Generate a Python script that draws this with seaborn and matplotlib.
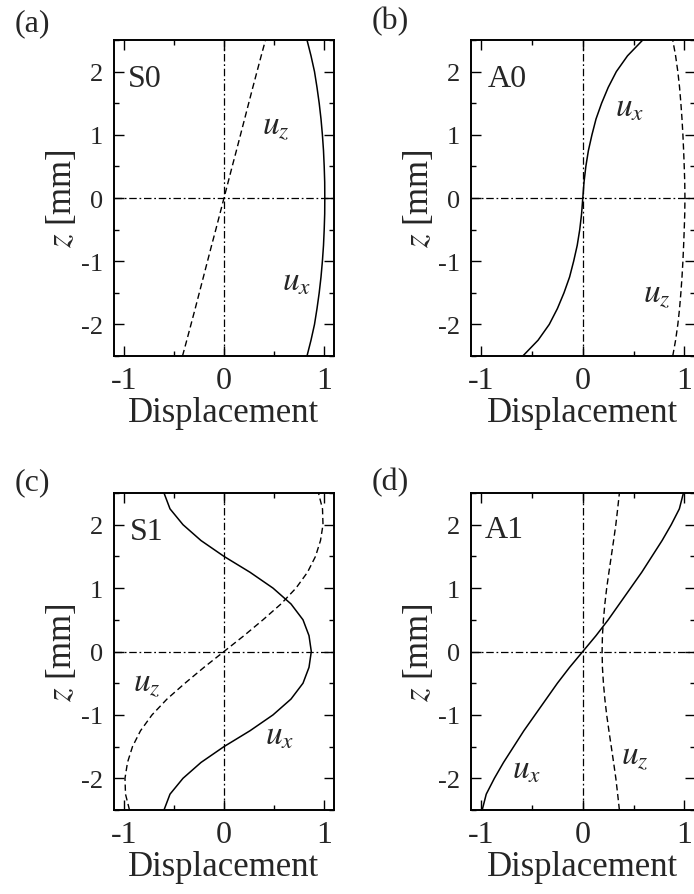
import numpy as np
import pandas as pd
import matplotlib
matplotlib.use("Agg")
import matplotlib.pyplot as plt
from matplotlib.ticker import MultipleLocator
import seaborn as sns

# ---------------- data ----------------
z = [-2.5, -2.25, -2.0, -1.75, -1.5, -1.25, -1.0, -0.75, -0.5, -0.25, 0.0,
     0.25, 0.5, 0.75, 1.0, 1.25, 1.5, 1.75, 2.0, 2.25, 2.5]

s0_ux = [0.83, 0.87, 0.905, 0.93, 0.952, 0.97, 0.984, 0.995, 1.002, 1.007, 1.008,
         1.007, 1.002, 0.995, 0.984, 0.97, 0.952, 0.93, 0.905, 0.87, 0.83]
s0_uz = [-0.415, -0.372, -0.33, -0.288, -0.247, -0.206, -0.165, -0.124, -0.082, -0.041, 0.0,
         0.041, 0.082, 0.124, 0.165, 0.206, 0.247, 0.288, 0.33, 0.372, 0.415]

a0_ux = [-0.59, -0.44, -0.33, -0.25, -0.185, -0.13, -0.09, -0.055, -0.03, -0.012, 0.0,
         0.012, 0.03, 0.055, 0.09, 0.13, 0.185, 0.25, 0.33, 0.44, 0.59]
a0_uz = [0.885, 0.913, 0.935, 0.952, 0.965, 0.976, 0.985, 0.992, 0.998, 1.003, 1.005,
         1.003, 0.998, 0.992, 0.985, 0.976, 0.965, 0.952, 0.935, 0.913, 0.885]

s1_ux = [-0.60, -0.54, -0.41, -0.23, 0.0, 0.26, 0.49, 0.67, 0.79, 0.85, 0.873,
         0.85, 0.79, 0.67, 0.49, 0.26, 0.0, -0.23, -0.41, -0.54, -0.60]
s1_uz = [-0.945, -0.985, -0.99, -0.965, -0.915, -0.835, -0.72, -0.57, -0.39, -0.2, 0.0,
         0.2, 0.39, 0.57, 0.72, 0.835, 0.915, 0.965, 0.99, 0.985, 0.945]

a1_ux = [-0.99, -0.95, -0.87, -0.78, -0.68, -0.58, -0.47, -0.36, -0.25, -0.13, 0.0,
         0.13, 0.25, 0.36, 0.47, 0.58, 0.68, 0.78, 0.87, 0.95, 0.99]
a1_uz = [0.36, 0.343, 0.325, 0.303, 0.28, 0.257, 0.235, 0.217, 0.203, 0.193, 0.19,
         0.193, 0.203, 0.217, 0.235, 0.257, 0.28, 0.303, 0.325, 0.343, 0.36]

panel_letters = ["(a)", "(b)", "(c)", "(d)"]
mode_names = ["S0", "A0", "S1", "A1"]
x_ticks = [-1, 0, 1]
y_ticks = [-2, -1, 0, 1, 2]
x_label = "Displacement"
y_label = r"$z$ [mm]"

series = [(s0_ux, s0_uz), (a0_ux, a0_uz), (s1_ux, s1_uz), (a1_ux, a1_uz)]

# annotation positions (x, z baseline) for mode name, u_x, u_z
mode_pos = [(-0.96, 1.78), (-0.94, 1.78), (-0.94, 1.77), (-0.96, 1.80)]
ux_pos = [(0.58, -1.44), (0.32, 1.31), (0.41, -1.45), (-0.70, -1.99)]
uz_pos = [(0.38, 1.04), (0.59, -1.63), (-0.91, -0.60), (0.38, -1.75)]

# ---------------- style ----------------
sns.set_style("ticks")
plt.rcParams["font.family"] = ["Liberation Serif", "DejaVu Serif"]
plt.rcParams["mathtext.fontset"] = "stix"
plt.rcParams["axes.unicode_minus"] = False

W, H = 694, 895
fig = plt.figure(figsize=(W / 100, H / 100), dpi=100)

# axes pixel boxes: left, top, right, bottom
boxes = [(114, 41, 334, 357), (471, 41, 694.6, 357),
         (114, 494, 334, 811), (471, 494, 694.6, 811)]
letter_pos = [(15, 24), (372, 22), (15, 483), (372, 483)]

for i, (l, t, r, b) in enumerate(boxes):
    ax = fig.add_axes([l / W, 1 - b / H, (r - l) / W, (b - t) / H])
    ux, uz = series[i]
    df = pd.DataFrame({"z": z, "ux": ux, "uz": uz})
    sns.lineplot(data=df, x="ux", y="z", sort=False, estimator=None,
                 color="black", lw=1.1, ax=ax)
    sns.lineplot(data=df, x="uz", y="z", sort=False, estimator=None,
                 color="black", lw=1.0, ax=ax, linestyle=(0, (4.5, 2.6)))
    ax.axhline(0, color="black", lw=0.9, linestyle=(0, (6, 2.2, 1.4, 2.2)))
    ax.axvline(0, color="black", lw=0.9, linestyle=(0, (6, 2.2, 1.4, 2.2)))

    ax.set_xlim(-1.1, 1.1)
    ax.set_ylim(-2.5, 2.5)
    ax.set_xticks(x_ticks)
    ax.set_yticks(y_ticks)
    ax.xaxis.set_minor_locator(MultipleLocator(0.5))
    ax.yaxis.set_minor_locator(MultipleLocator(0.5))
    ax.tick_params(which="both", direction="in", top=True, right=True,
                   color="black", width=1.0)
    ax.tick_params(which="major", length=7)
    ax.tick_params(which="minor", length=3.5)
    ax.tick_params(axis="x", which="major", labelsize=23, pad=7)
    ax.tick_params(axis="y", which="major", labelsize=19, pad=8)
    for sp in ax.spines.values():
        sp.set_visible(True)
        sp.set_linewidth(1.4)
        sp.set_color("black")

    ax.set_xlabel(x_label, fontsize=25, labelpad=1)
    ax.set_ylabel(y_label, fontsize=25, labelpad=1)

    ax.text(mode_pos[i][0], mode_pos[i][1], mode_names[i], fontsize=23,
            ha="left", va="baseline")
    ax.text(ux_pos[i][0], ux_pos[i][1], r"$u_x$", fontsize=24,
            ha="left", va="baseline")
    ax.text(uz_pos[i][0], uz_pos[i][1], r"$u_z$", fontsize=24,
            ha="left", va="baseline")

    lx, ly = letter_pos[i]
    fig.text(lx / W, 1 - ly / H, panel_letters[i], fontsize=23,
             ha="left", va="center")

fig.savefig("out.png", dpi=100)
